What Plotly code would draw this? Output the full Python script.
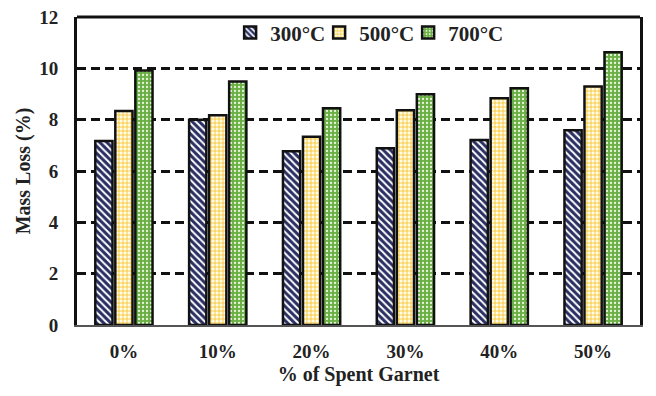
import plotly.graph_objects as go

categories = ["0%", "10%", "20%", "30%", "40%", "50%"]
series_names = ["300°C", "500°C", "700°C"]
mass_300 = [7.17, 8.0, 6.77, 6.89, 7.21, 7.59]
mass_500 = [8.34, 8.17, 7.33, 8.37, 8.83, 9.29]
mass_700 = [9.92, 9.49, 8.44, 8.99, 9.22, 10.63]

FONT = "Liberation Serif"

styles = [
    dict(shape="\\", bgcolor="#2a2f62", fgcolor="#ffffff", size=5, solidity=0.4),
    dict(shape="+", bgcolor="#fffbe6", fgcolor="#f5b800", size=4, solidity=0.3),
    dict(shape=".", bgcolor="#6aaf45", fgcolor="#e8f5dc", size=4, solidity=0.25),
]

fig = go.Figure()
for name, vals, st in zip(series_names, [mass_300, mass_500, mass_700], styles):
    fig.add_trace(go.Bar(
        x=categories, y=vals, name=name,
        marker=dict(color=st["bgcolor"], line=dict(color="#111111", width=2.5),
                    pattern=dict(shape=st["shape"], bgcolor=st["bgcolor"], fgcolor=st["fgcolor"],
                                 size=st["size"], solidity=st["solidity"], fillmode="replace")),
    ))
# invisible trailing legend entry so the last label is not clipped by the legend box
fig.add_trace(go.Scatter(x=[None], y=[None], name=" ", mode="markers", showlegend=True,
                         hoverinfo="skip", marker=dict(opacity=0, color="white", size=1)))

# page body has an 8px margin, so the figure is sized/offset to compensate
fig.update_layout(
    width=648, height=388,
    margin=dict(l=69, r=16, t=9, b=71, autoexpand=False),
    paper_bgcolor="white", plot_bgcolor="white",
    barmode="group", bargap=0.36, bargroupgap=0.14,
    font=dict(family=FONT, color="#222222", size=19),
    legend=dict(orientation="h", x=0.272, y=1.015, xanchor="left", yanchor="top",
                font=dict(family=FONT, size=21, color="#222222", weight="bold"),
                bgcolor="rgba(0,0,0,0)", itemwidth=30, traceorder="normal",
                entrywidth=44),
    showlegend=True,
)
fig.update_yaxes(
    range=[0, 12], dtick=2, showgrid=True, gridcolor="#111111", gridwidth=2.5,
    griddash="9px,5px", zeroline=False, automargin=False, ticklabeloverflow="allow",
    showline=True, linecolor="#111111", linewidth=3, mirror=True,
    ticks="", ticklabelstandoff=12, tickfont=dict(family=FONT, size=19, weight="bold"),
    title=dict(text="Mass Loss (%)", font=dict(family=FONT, size=20, weight="bold"), standoff=4),
)
fig.update_xaxes(
    showgrid=False, showline=True, linecolor="#555555", linewidth=1.5, automargin=False,
    ticks="", ticklabelstandoff=8, tickfont=dict(family=FONT, size=19, weight="bold"),
    title=dict(text="% of Spent Garnet", font=dict(family=FONT, size=20, weight="bold"), standoff=6),
)
fig.add_shape(type="line", xref="x domain", yref="y domain", x0=0, x1=1, y0=1, y1=1,
              line=dict(color="#111111", width=3))

fig.write_html("out.html")
